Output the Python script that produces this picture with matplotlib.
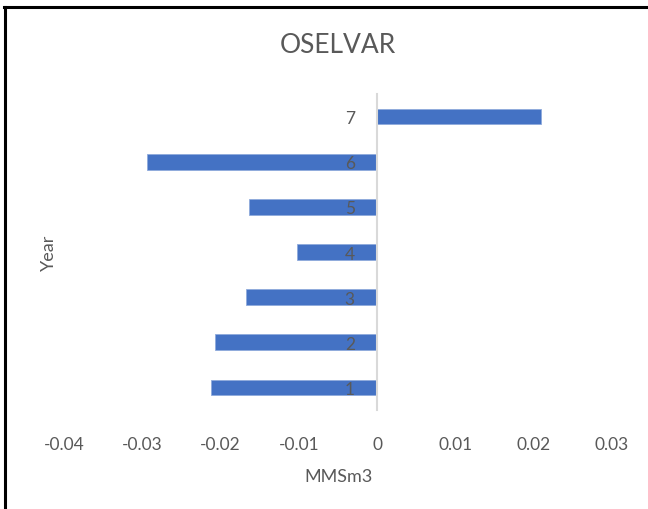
# OSELVAR yearly change - horizontal bars, Excel style
import matplotlib
matplotlib.use('Agg')
import matplotlib.pyplot as plt
from matplotlib.lines import Line2D

years = [1, 2, 3, 4, 5, 6, 7]
values = [-0.0212, -0.0207, -0.0168, -0.0102, -0.0164, -0.0294, 0.0209]
xticks = [-0.04, -0.03, -0.02, -0.01, 0, 0.01, 0.02, 0.03]
xtick_labels = ['-0.04', '-0.03', '-0.02', '-0.01', '0', '0.01', '0.02', '0.03']

plt.rcParams['font.family'] = ['Lato', 'DejaVu Sans']
grey = '#595959'

fig = plt.figure(figsize=(6.48, 5.10), dpi=100)
ax = fig.add_axes([64 / 648, 1 - 411 / 510, 548 / 648, 316 / 510])

ax.barh(years, values, height=0.35, color='#4472C4', edgecolor='#8FAADC', linewidth=0.6)

ax.set_xlim(-0.04, 0.03)
ax.set_ylim(0.5, 7.5)
ax.set_xticks(xticks)
ax.set_xticklabels(xtick_labels)
ax.set_yticks(years)

# category axis sits at x = 0
ax.spines['left'].set_position(('data', 0))
ax.spines['left'].set_color('#D9D9D9')
ax.spines['left'].set_linewidth(1.5)
ax.spines['left'].set_zorder(3)
for s in ['top', 'right', 'bottom']:
    ax.spines[s].set_visible(False)

ax.tick_params(axis='x', length=0, pad=19, labelsize=12.5, labelcolor=grey)
ax.tick_params(axis='y', length=0, pad=16, labelsize=12.5, labelcolor=grey)
for lbl in ax.get_yticklabels():
    lbl.set_zorder(4)

ax.set_xlabel('MMSm3', fontsize=13, color=grey, labelpad=11)
ax.set_ylabel('Year', fontsize=13, color=grey)
ax.yaxis.set_label_coords(-0.012, 0.5)
ax.set_title('OSELVAR', fontsize=19, color=grey, pad=30)

# partial frame seen in the screenshot (left and top edges)
fig.add_artist(Line2D([5 / 648, 5 / 648], [0, 1 - 8 / 510], color='black', lw=2.2, transform=fig.transFigure))
fig.add_artist(Line2D([4 / 648, 1], [1 - 8 / 510, 1 - 8 / 510], color='black', lw=2.2, transform=fig.transFigure))

fig.savefig('out.png', dpi=100)
